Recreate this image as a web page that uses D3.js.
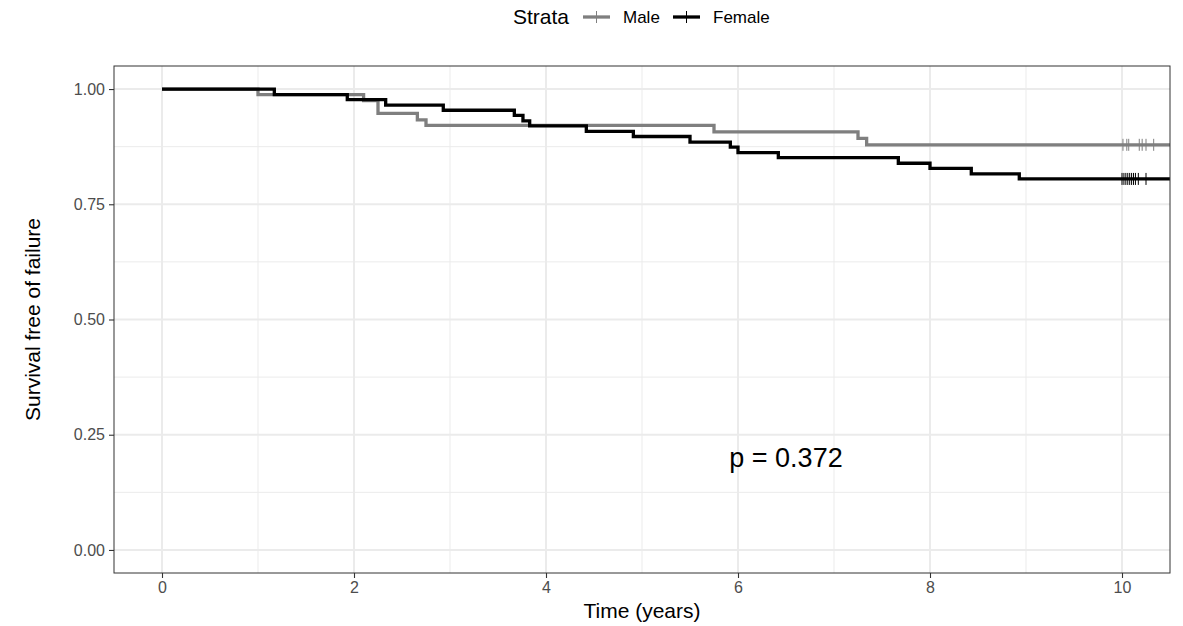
<!DOCTYPE html>
<html>
<head>
<meta charset="utf-8">
<script src="https://cdn.jsdelivr.net/npm/d3@7"></script>
<style>
  body { margin: 0; background: #fff; }
  text { font-family: "Liberation Sans", Arial, sans-serif; }
</style>
</head>
<body>
<div id="chart"></div>
<script>
var svgWidth = 1183;
var svgHeight = 626;

var margin = { top: 66, right: 13, bottom: 53, left: 114 };
var width = svgWidth - margin.left - margin.right;
var height = svgHeight - margin.top - margin.bottom;

// KM steps
var maleTimes = [0, 1.0, 2.1, 2.25, 2.66, 2.75, 5.75, 7.25, 7.34];
var maleSurv = [1, 0.988, 0.975, 0.947, 0.933, 0.921, 0.907, 0.893, 0.879];
var maleCensor = [10.01, 10.05, 10.07, 10.18, 10.21, 10.25, 10.33];

var femaleTimes = [0, 1.17, 1.93, 2.33, 2.93, 3.67, 3.76, 3.83, 4.42, 4.91, 5.5, 5.92, 6.0, 6.42, 7.67, 8.0, 8.43, 8.93];
var femaleSurv = [1, 0.988, 0.977, 0.965, 0.954, 0.943, 0.931, 0.92, 0.908, 0.897, 0.885, 0.874, 0.862, 0.851, 0.839, 0.828, 0.816, 0.805];
var femaleCensor = [10.0, 10.02, 10.04, 10.06, 10.08, 10.1, 10.12, 10.14, 10.17, 10.25];

var strata = ["Male", "Female"];
var strataColors = ["#7f7f7f", "#000000"];

var xTicks = [0, 2, 4, 6, 8, 10];
var xMinor = [1, 3, 5, 7, 9];
var yTicks = [0, 0.25, 0.5, 0.75, 1];
var yMinor = [0.125, 0.375, 0.625, 0.875];
var pText = "p = 0.372";

var svg = d3.select("#chart").append("svg")
  .attr("width", svgWidth)
  .attr("height", svgHeight);

var chartGroup = svg.append("g")
  .attr("transform", `translate(${margin.left}, ${margin.top})`);

var x = d3.scaleLinear().domain([-0.5, 10.5]).range([0, width]);
var y = d3.scaleLinear().domain([-0.05, 1.05]).range([height, 0]);

// grid
chartGroup.selectAll(".xminor").data(xMinor).enter().append("line")
  .attr("x1", d => x(d)).attr("x2", d => x(d)).attr("y1", 0).attr("y2", height)
  .attr("stroke", "#ebebeb").attr("stroke-width", 1);
chartGroup.selectAll(".yminor").data(yMinor).enter().append("line")
  .attr("y1", d => y(d)).attr("y2", d => y(d)).attr("x1", 0).attr("x2", width)
  .attr("stroke", "#ebebeb").attr("stroke-width", 1);
chartGroup.selectAll(".xmajor").data(xTicks).enter().append("line")
  .attr("x1", d => x(d)).attr("x2", d => x(d)).attr("y1", 0).attr("y2", height)
  .attr("stroke", "#ebebeb").attr("stroke-width", 2);
chartGroup.selectAll(".ymajor").data(yTicks).enter().append("line")
  .attr("y1", d => y(d)).attr("y2", d => y(d)).attr("x1", 0).attr("x2", width)
  .attr("stroke", "#ebebeb").attr("stroke-width", 2);

// clip for the curves
svg.append("defs").append("clipPath").attr("id", "panel")
  .append("rect").attr("width", width).attr("height", height);

var plotArea = chartGroup.append("g").attr("clip-path", "url(#panel)");

var line = d3.line()
  .x(d => x(d[0]))
  .y(d => y(d[1]))
  .curve(d3.curveStepAfter);

function drawStrata(times, surv, censor, color) {
  var pts = times.map((t, i) => [t, surv[i]]);
  pts.push([10.6, surv[surv.length - 1]]);
  plotArea.append("path")
    .datum(pts)
    .attr("fill", "none")
    .attr("stroke", color)
    .attr("stroke-width", 3.3)
    .attr("d", line);

  var last = surv[surv.length - 1];
  plotArea.selectAll(null).data(censor).enter().append("line")
    .attr("x1", d => x(d)).attr("x2", d => x(d))
    .attr("y1", y(last) - 6).attr("y2", y(last) + 6)
    .attr("stroke", color).attr("stroke-width", 1);
}

drawStrata(maleTimes, maleSurv, maleCensor, strataColors[0]);
drawStrata(femaleTimes, femaleSurv, femaleCensor, strataColors[1]);

// p value
chartGroup.append("text")
  .attr("x", x(6.5))
  .attr("y", y(0.2))
  .attr("text-anchor", "middle")
  .attr("dy", "0.35em")
  .attr("font-size", "27px")
  .attr("fill", "#000")
  .text(pText);

// panel border
chartGroup.append("rect")
  .attr("width", width).attr("height", height)
  .attr("fill", "none").attr("stroke", "#333333").attr("stroke-width", 1);

// axes
var xAxis = chartGroup.append("g")
  .attr("transform", `translate(0, ${height})`)
  .call(d3.axisBottom(x).tickValues(xTicks).tickFormat(d3.format("d")).tickSize(5).tickPadding(4));
var yAxis = chartGroup.append("g")
  .call(d3.axisLeft(y).tickValues(yTicks).tickFormat(d3.format(".2f")).tickSize(5).tickPadding(4));

[xAxis, yAxis].forEach(function(a) {
  a.select(".domain").remove();
  a.selectAll(".tick line").attr("stroke", "#333333").attr("stroke-width", 1.1);
  a.selectAll(".tick text").attr("fill", "#4d4d4d").attr("font-size", "16px")
    .attr("font-family", "'Liberation Sans', Arial, sans-serif");
});

// axis titles
svg.append("text")
  .attr("x", margin.left + width / 2)
  .attr("y", 618)
  .attr("text-anchor", "middle")
  .attr("font-size", "21px")
  .text("Time (years)");

svg.append("text")
  .attr("transform", `translate(40, ${margin.top + height / 2}) rotate(-90)`)
  .attr("text-anchor", "middle")
  .attr("font-size", "21px")
  .text("Survival free of failure");

// legend
var legend = svg.append("g").attr("transform", "translate(513, 17)");
legend.append("text")
  .attr("x", 0).attr("dy", "0.35em")
  .attr("font-size", "21px")
  .text("Strata");

var keyX = [70, 160];
strata.forEach(function(s, i) {
  var g = legend.append("g").attr("transform", `translate(${keyX[i]}, 0)`);
  g.append("line").attr("x1", 0).attr("x2", 27).attr("y1", 0).attr("y2", 0)
    .attr("stroke", strataColors[i]).attr("stroke-width", 3.3);
  g.append("line").attr("x1", 13.5).attr("x2", 13.5).attr("y1", -6).attr("y2", 6)
    .attr("stroke", strataColors[i]).attr("stroke-width", 1);
  g.append("text").attr("x", 40).attr("dy", "0.35em")
    .attr("font-size", "17px")
    .text(s);
});
</script>
</body>
</html>
